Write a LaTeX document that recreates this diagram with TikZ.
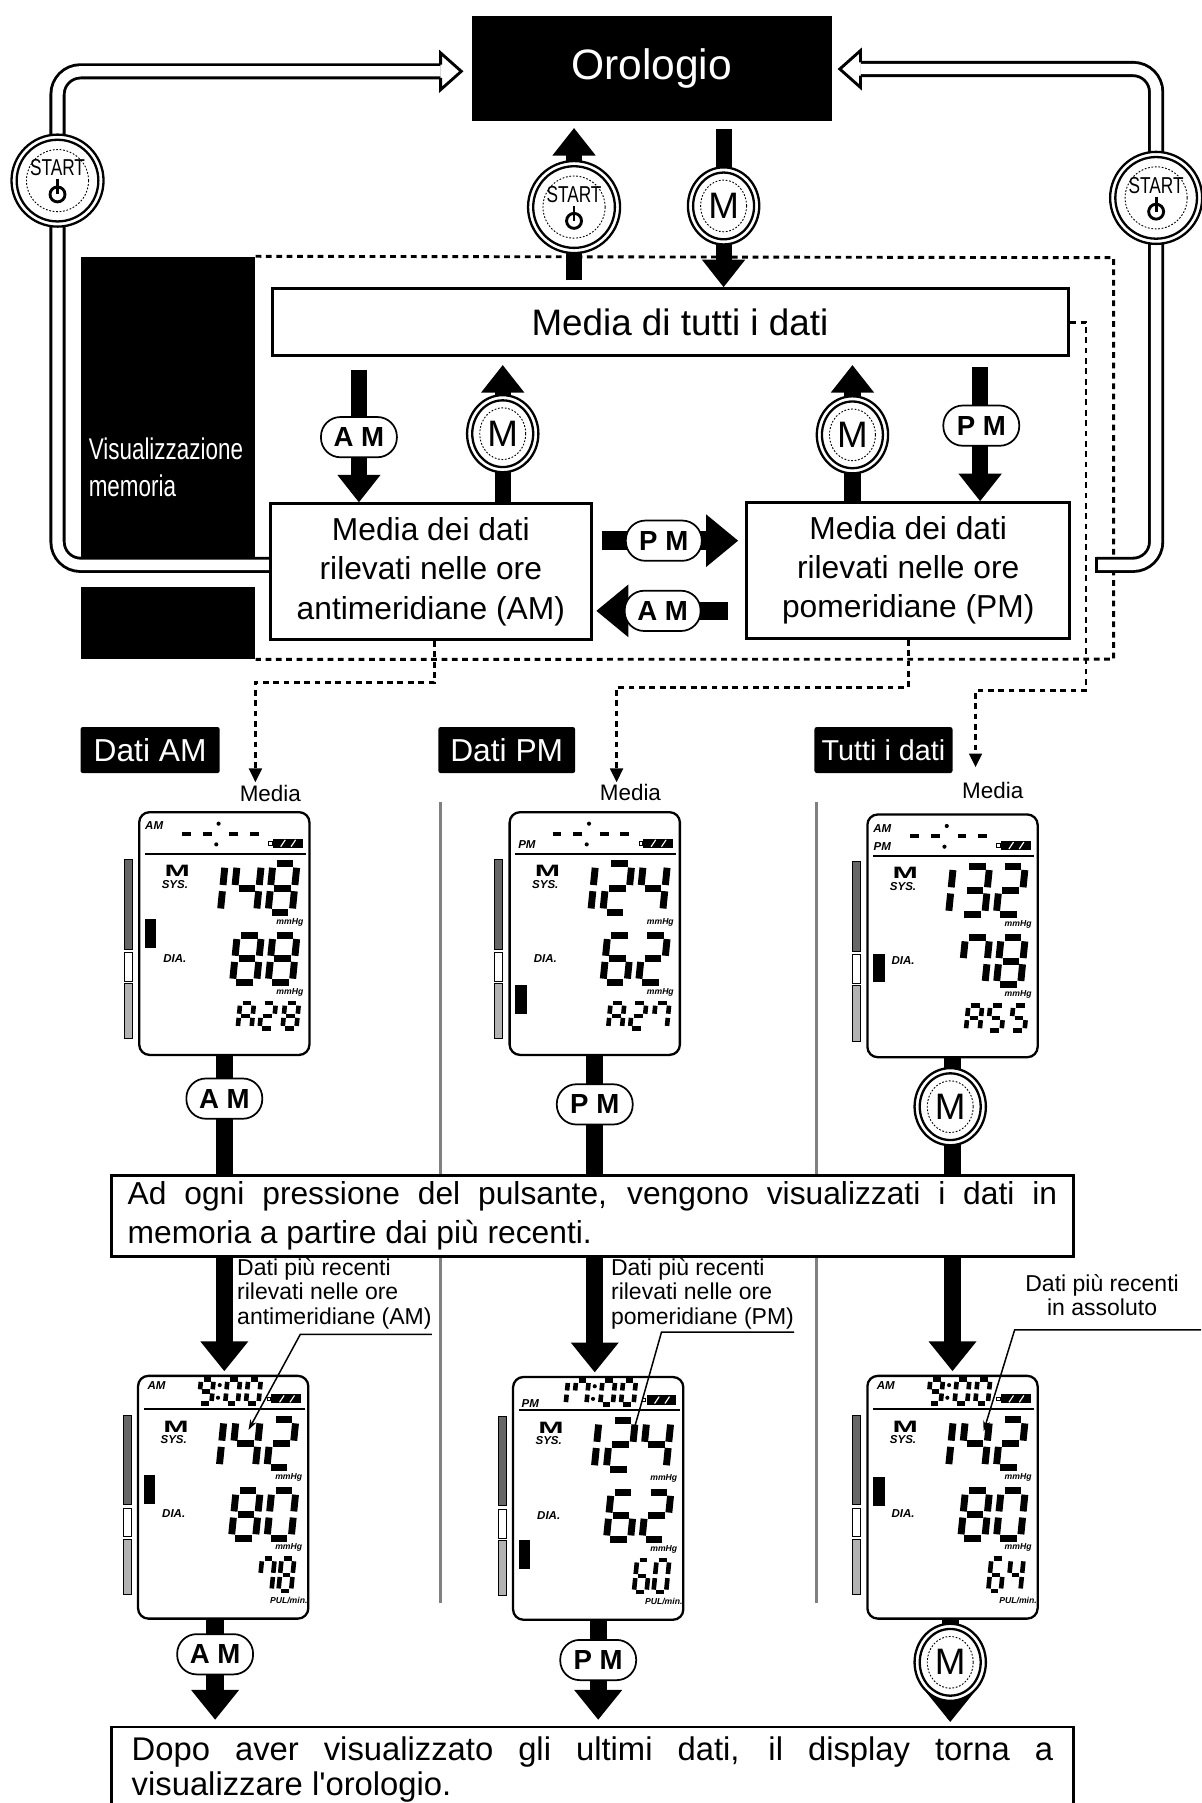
\documentclass[tikz,border=0pt]{standalone}
\usepackage{fontspec}
\setmainfont{Liberation Sans}
\newfontfamily\narrowfont{Liberation Sans}[FakeStretch=0.75]
\usetikzlibrary{arrows.meta,shapes.geometric,calc}
\definecolor{darkbar}{gray}{0.4}
\definecolor{lightbar}{gray}{0.7}
\definecolor{sepgray}{gray}{0.5}
\newcommand{\fsz}[2]{\fontsize{#1}{#2}\selectfont}
\tikzstyle{blackbox}=[fill=black, text=white, inner sep=0pt]
\tikzstyle{textbox}=[draw, line width=2.5pt, fill=white, inner sep=0pt, align=center, font=\fsz{27.6}{34}]
\tikzstyle{bigarrow}=[line width=14pt, -{Triangle[width=36pt,length=24pt]}]
\tikzstyle{colarrow}=[line width=15pt, -{Triangle[width=40pt,length=26pt]}]
\tikzstyle{sidearrow}=[line width=16pt, -{Triangle[width=44pt,length=28pt]}]
\tikzstyle{hollow}=[line width=2.5pt, double=white, double distance=9pt, rounded corners=20pt]
\tikzstyle{dotline}=[line width=2.5pt, dash pattern=on 5pt off 4pt]
\tikzstyle{dotarrow}=[dotline, -{Triangle[width=11pt,length=12pt]}]
\tikzstyle{pill}=[draw, line width=1.5pt, fill=white, rounded corners=17pt, minimum width=66pt, minimum height=35pt, inner sep=0pt, font=\bfseries\fsz{24}{24}]
\tikzstyle{startbtn}=[circle, draw, line width=2pt, fill=white, minimum size=80pt, inner sep=0pt, path picture={
  \draw[line width=2pt] (path picture bounding box.center) circle (35.5pt);
  \draw[line width=0.8pt, dash pattern=on 1.5pt off 1.5pt] (path picture bounding box.center) circle (27pt);
  \node[font=\narrowfont\fsz{20}{20}, inner sep=0pt] at ([yshift=11pt]path picture bounding box.center) {START};
  \draw[line width=2.5pt] ([yshift=-12pt]path picture bounding box.center) circle (6.5pt);
  \draw[line width=2.5pt] ([yshift=1pt]path picture bounding box.center) -- ([yshift=-12pt]path picture bounding box.center);}]
\tikzstyle{mbtn}=[ellipse, draw, line width=2pt, fill=white, minimum width=62pt, minimum height=67pt, inner sep=0pt, font=\fsz{32}{32}, path picture={
  \draw[line width=2pt] (path picture bounding box.center) ellipse (26.5pt and 29pt);
  \draw[line width=0.8pt, dash pattern=on 1.5pt off 1.5pt] (path picture bounding box.center) ellipse (20pt and 22.5pt);}]
\tikzstyle{lcd}=[draw, line width=2pt, rounded corners=9pt, minimum width=148pt, minimum height=211pt, inner sep=0pt]
\tikzstyle{lcdtag}=[font=\bfseries\itshape\fsz{10}{10}, inner sep=0pt]
\tikzstyle{lcdunit}=[font=\bfseries\itshape\fsz{7.5}{7.5}, inner sep=0pt]

\expandafter\def\csname dig0\endcsname{a,b,c,d,e,f}
\expandafter\def\csname dig1\endcsname{b,c}
\expandafter\def\csname dig2\endcsname{a,b,g,e,d}
\expandafter\def\csname dig3\endcsname{a,b,g,c,d}
\expandafter\def\csname dig4\endcsname{f,g,b,c}
\expandafter\def\csname dig5\endcsname{a,f,g,c,d}
\expandafter\def\csname dig6\endcsname{a,f,g,e,c,d}
\expandafter\def\csname dig7\endcsname{a,b,c,f}
\expandafter\def\csname dig8\endcsname{a,b,c,d,e,f,g}
\expandafter\def\csname dig9\endcsname{a,b,c,d,f,g}
\expandafter\def\csname digA\endcsname{a,b,c,e,f,g}
\expandafter\def\csname digx\endcsname{g}

\newcommand{\lcdseg}[1]{%
  \if#1a\draw (\dI,\dT) -- (\dW-\dI,\dT);\fi
  \if#1g\draw (\dI,\dH/2) -- (\dW-\dI,\dH/2);\fi
  \if#1d\draw (\dI,\dH-\dT) -- (\dW-\dI,\dH-\dT);\fi
  \if#1f\draw (\dT,\dI) -- (\dT,\dH/2-\dG);\fi
  \if#1e\draw (\dT,\dH/2+\dG) -- (\dT,\dH-\dI);\fi
  \if#1b\draw (\dW-\dT,\dI) -- (\dW-\dT,\dH/2-\dG);\fi
  \if#1c\draw (\dW-\dT,\dH/2+\dG) -- (\dW-\dT,\dH-\dI);\fi}

\newcommand{\lcdrow}[5]{%
  \foreach \dg/\xx in {#5}{%
    \edef\seglist{\csname dig\dg\endcsname}%
    \begin{scope}[shift={(\xx,#1)}, xslant=0.1, line width=#4pt]
      \def\dW{#2}\def\dH{#3}\def\dT{#4/2}\def\dI{#4*1.05}\def\dG{#4*0.45}%
      \foreach \sgm in \seglist {\lcdseg{\sgm}}
    \end{scope}}}

\newcommand{\lcdpanel}[5]{%
  \node[lcd, anchor=north west] (#1) at #2 {};
  \begin{scope}[shift={(#1.north west)}]
    \draw[line width=1.8pt] (6,30+#3) -- (146,30+#3);
    \fill (117,17+#3) rectangle (143,25+#3);
    \draw[white, line width=1pt] (124,24+#3) -- (128,18+#3) (133,24+#3) -- (137,18+#3);
    \draw[line width=0.8pt] (113.5,19.5+#3) rectangle (116.5,22.5+#3);
    \node[font=\bfseries\fsz{22}{22}, xscale=1.2, yscale=0.65, inner sep=0pt] at (34,45+#3) {M};
    \node[lcdtag] at (32,56.5+#3) {SYS.};
    \node[lcdtag] at (32,121+#3) {DIA.};
    \node[lcdunit] at (132,89.5+#3) {mmHg};
    \node[lcdunit] at (132,150.5+#3) {mmHg};
    \filldraw[fill=darkbar, line width=0.8pt] (-12,35+#3) rectangle (-5,113+#3);
    \draw[line width=0.8pt] (-12,116+#3) rectangle (-5,141+#3);
    \filldraw[fill=lightbar, line width=0.8pt] (-12,143+#3) rectangle (-5,191+#3);
    \fill (6,#4+#3) rectangle (16,#4+25+#3);
    #5
  \end{scope}}

\begin{document}
\begin{tikzpicture}[x=1pt, y=-1pt]
\useasboundingbox (0,0) rectangle (1044,1567.3);

\coordinate (cS) at (499,0);
\coordinate (cM) at (629,0);
\coordinate (cL1) at (312,0);
\coordinate (cL2) at (437,0);
\coordinate (cR1) at (741,0);
\coordinate (cR2) at (852,0);
\coordinate (rP) at (0,470);
\coordinate (rA) at (0,531);
\coordinate (cA) at (187,0);
\coordinate (cB) at (520,0);
\coordinate (cC) at (826,0);

\node[blackbox, minimum width=152pt, minimum height=261pt] (vis) at (146,353.5) {};
\node[blackbox, minimum width=152pt, minimum height=63pt] (visb) at (146,541.5) {};
\node[text=white, anchor=west, align=left, inner sep=0pt, font=\narrowfont\fsz{26}{32}] (vislabel) at (77,406) {Visualizzazione\\memoria};

\node[blackbox, minimum width=313pt, minimum height=91pt, font=\fsz{37}{37}] (orologio) at (566.5,59.5) {Orologio};
\node[textbox, minimum width=692pt, minimum height=58pt, font=\fsz{32}{32}] (tutti) at (583,280) {\hspace*{16pt}Media di tutti i dati};
\node[textbox, minimum width=279pt, minimum height=118pt] (mediaam) at (374.5,497) {Media dei dati\\rilevati nelle ore\\antimeridiane (AM)};
\node[textbox, minimum width=281pt, minimum height=118pt] (mediapm) at (789.5,496) {Media dei dati\\rilevati nelle ore\\pomeridiane (PM)};

\coordinate (dA) at (222,680);
\coordinate (dB) at (536,680);
\coordinate (dC) at (848,667);
\draw[dotline] (vis.north east) -- (968,224) -- (968,573) -- (visb.south east);
\draw[dotarrow] ([xshift=3pt]mediaam.south) -- ++(0,36) -| (dA);
\draw[dotarrow] (mediapm.south) -- ++(0,41) -| (dB);
\draw[dotarrow] (tutti.east) -- (944,280) -- (944,600) -| (dC);

\coordinate (cornL) at (50,62);
\coordinate (headL) at (383,62);
\coordinate (rstart) at ($(mediapm.east)+(22,-5)$);
\coordinate (cornR) at (1005,60);
\coordinate (headR) at (748,60);
\draw[hollow] ([yshift=6pt]mediaam.west) -| (cornL) -- (headL);
\filldraw[line width=2.5pt, fill=white] ([yshift=5.75pt]headL) -- ([yshift=16pt]headL) -- ([xshift=18pt]headL) -- ([yshift=-16pt]headL) -- ([yshift=-5.75pt]headL);
\draw[hollow] (rstart) -| (cornR) -- (headR);
\draw[line width=2.5pt] ([yshift=7pt]rstart) -- ([yshift=-7pt]rstart);
\filldraw[line width=2.5pt, fill=white] ([yshift=5.75pt]headR) -- ([yshift=16pt]headR) -- ([xshift=-18pt]headR) -- ([yshift=-16pt]headR) -- ([yshift=-5.75pt]headR);

\draw[bigarrow] ($(tutti.north -| cS)+(0,-6)$) -- ($(orologio.south -| cS)+(0,6)$);
\draw[bigarrow] ($(orologio.south -| cM)+(0,7)$) -- (tutti.north -| cM);
\draw[bigarrow] ($(tutti.south -| cL1)+(0,11)$) -- (mediaam.north -| cL1);
\draw[bigarrow] (mediaam.north -| cL2) -- ($(tutti.south -| cL2)+(0,7)$);
\draw[bigarrow] (mediapm.north -| cR1) -- ($(tutti.south -| cR1)+(0,7)$);
\draw[bigarrow] ($(tutti.south -| cR2)+(0,9)$) -- (mediapm.north -| cR2);
\draw[sidearrow] ($(mediaam.east |- rP)+(8,0)$) -- ($(mediapm.west |- rP)+(-6,0)$);
\draw[sidearrow] ($(mediapm.west |- rA)+(-15,0)$) -- ($(mediaam.east |- rA)+(3,0)$);

\node[startbtn] (startL) at (50,157) {};
\node[startbtn] (startM) at (499,180) {};
\node[startbtn] (startR) at (1005,172) {};
\node[mbtn] (mTop) at (629,179) {M};
\node[mbtn] (mAM) at (437,377) {M};
\node[mbtn] (mPM) at (741,378) {M};
\node[pill] (pAM) at (312,380) {A M};
\node[pill] (pPM) at (853,370) {P M};
\node[pill] (pPMh) at (577,470) {P M};
\node[pill] (pAMh) at (576,531) {A M};

\node[blackbox, minimum width=121pt, minimum height=40pt, rounded corners=2pt, font=\fsz{27.6}{27.6}] (tagAM) at (130.5,652) {Dati AM};
\node[blackbox, minimum width=119pt, minimum height=40pt, rounded corners=2pt, font=\fsz{27.6}{27.6}] (tagPM) at (440.5,652) {Dati PM};
\node[blackbox, minimum width=120pt, minimum height=40pt, rounded corners=2pt, font=\fsz{25}{25}] (tagAll) at (768,652) {Tutti i dati};
\node[font=\fsz{19.5}{19.5}, inner sep=0pt] (avgAM) at (235,690) {Media};
\node[font=\fsz{19.5}{19.5}, inner sep=0pt] (avgPM) at (548,689) {Media};
\node[font=\fsz{19.5}{19.5}, inner sep=0pt] (avgAll) at (863,687) {Media};

\draw[sepgray, line width=2.5pt] (383,697) -- (383,1393);
\draw[sepgray, line width=2.5pt] (710,697) -- (710,1393);

\lcdpanel{lcd1}{(120,705)}{7}{87}{
  \node[lcdtag] at (14,13) {AM};
  \lcdrow{7}{15}{26}{3.5}{x/36,x/54,x/77,x/95}
  \fill (70,11) circle (1.8pt) (68,29) circle (1.8pt);
  \lcdrow{43}{27}{48}{6}{1/52,4/83.5,8/114.5}
  \lcdrow{105}{27}{47}{6}{8/83.5,8/114.5}
  \lcdrow{165}{16}{26}{4}{A/87,2/106,8/126}}
\lcdpanel{lcd2}{(442,705)}{7}{144}{
  \node[lcdtag] at (16,29) {PM};
  \lcdrow{7}{15}{26}{3.5}{x/36,x/54,x/77,x/95}
  \fill (70,11) circle (1.8pt) (68,29) circle (1.8pt);
  \lcdrow{43}{27}{48}{6}{1/52,2/83.5,4/114.5}
  \lcdrow{105}{27}{47}{6}{6/83.5,2/114.5}
  \lcdrow{165}{16}{26}{4}{A/87,2/106,7/126}}
\lcdpanel{lcd3}{(753,707)}{7}{115}{
  \node[lcdtag] at (14,13) {AM};
  \node[lcdtag] at (14,29) {PM};
  \lcdrow{7}{15}{26}{3.5}{x/36,x/54,x/77,x/95}
  \fill (70,11) circle (1.8pt) (68,29) circle (1.8pt);
  \lcdrow{43}{27}{48}{6}{1/52,3/83.5,2/114.5}
  \lcdrow{105}{27}{47}{6}{7/83.5,8/114.5}
  \lcdrow{165}{16}{26}{4}{A/87,5/106,5/126}}
\lcdpanel{lcd4}{(119,1195)}{0}{87}{
  \node[lcdtag] at (17,9) {AM};
  \lcdrow{2}{15}{25}{4}{9/54,0/77,0/95}
  \fill (72,9) circle (1.8pt) (70.5,20) circle (1.8pt);
  \lcdrow{36}{27}{48}{6}{1/52,4/83.5,2/114.5}
  \lcdrow{98}{27}{47}{6}{8/83.5,0/114.5}
  \lcdrow{158}{15}{32}{4}{7/107,8/124}
  \node[lcdunit] at (132,196) {PUL/min.};}
\lcdpanel{lcd5}{(445,1196)}{0}{143}{
  \node[lcdtag] at (16,24) {PM};
  \lcdrow{2}{15}{25}{4}{1/36,7/54,0/77,0/95}
  \fill (72,9) circle (1.8pt) (70.5,20) circle (1.8pt);
  \lcdrow{36}{27}{48}{6}{1/52,2/83.5,4/114.5}
  \lcdrow{98}{27}{47}{6}{6/83.5,2/114.5}
  \lcdrow{158}{15}{32}{4}{6/107,0/124}
  \node[lcdunit] at (132,196) {PUL/min.};}
\lcdpanel{lcd6}{(753,1195)}{0}{89}{
  \node[lcdtag] at (17,9) {AM};
  \lcdrow{2}{15}{25}{4}{9/54,0/77,0/95}
  \fill (72,9) circle (1.8pt) (70.5,20) circle (1.8pt);
  \lcdrow{36}{27}{48}{6}{1/52,4/83.5,2/114.5}
  \lcdrow{98}{27}{47}{6}{8/83.5,0/114.5}
  \lcdrow{158}{15}{32}{4}{6/107,4/124}
  \node[lcdunit] at (132,196) {PUL/min.};}

\draw[colarrow] (lcd1.south) -- ($(lcd1.south |- lcd4.north)+(0,-3)$);
\draw[colarrow] (lcd2.south) -- ($(lcd2.south |- lcd5.north)+(0,-3)$);
\draw[colarrow] (lcd3.south) -- ($(lcd3.south |- lcd6.north)+(0,-3)$);
\node[pill] (pAM1) at (195,955) {A M};
\node[pill] (pPM1) at (517,960) {P M};
\node[mbtn] (mAll) at (826,962) {M};

\node[textbox, text width=808pt, align=justify, inner xsep=14pt, minimum height=70pt, font={\fsz{27.6}{34}\hyphenpenalty=10000\relax}] (note1) at (515,1057) {Ad ogni pressione del pulsante, vengono visualizzati i dati in memoria a partire dai più recenti.};

\node[textbox, anchor=north, text width=801pt, align=justify, inner xsep=17.5pt, minimum height=74pt, font={\fsz{28.5}{30}\hyphenpenalty=10000\relax}] (note2) at (515,1500) {Dopo aver visualizzato gli ultimi dati, il display torna a\linebreak visualizzare l\textquotesingle orologio.};

\draw[colarrow] (lcd4.south -| cA) -- ($(note2.north -| cA)+(0,-5)$);
\draw[colarrow] (lcd5.south -| cB) -- ($(note2.north -| cB)+(0,-5)$);
\draw[colarrow] (lcd6.south -| cC) -- ($(note2.north -| cC)+(0,-3)$);
\node[pill] (pAM2) at (187,1438) {A M};
\node[pill] (pPM2) at (520,1443) {P M};
\node[mbtn] (mAll2) at (826,1445) {M};

\node[anchor=north west, align=left, inner sep=0pt, font=\fsz{20}{21}] (annAM) at (206,1094) {Dati più recenti\\rilevati nelle ore\\antimeridiane (AM)};
\node[anchor=north west, align=left, inner sep=0pt, font=\fsz{20}{21}] (annPM) at (531,1094) {Dati più recenti\\rilevati nelle ore\\pomeridiane (PM)};
\node[anchor=north, align=center, inner sep=0pt, font=\fsz{20}{21}] (annAll) at (958,1108) {Dati più recenti\\in assoluto};

\coordinate (ulAM) at (261,1160);
\coordinate (tipAM) at (216,1243);
\coordinate (ulPM) at (575,1158);
\coordinate (tipPM) at (549,1250);
\coordinate (ulAll) at (882,1156);
\coordinate (tipAll) at (855,1244);
\draw[line width=1.3pt, -{Stealth[length=9pt,width=6pt]}] (annAM.south east |- ulAM) -- (ulAM) -- (tipAM);
\draw[line width=1.3pt, -{Stealth[length=9pt,width=6pt]}] (annPM.south east |- ulPM) -- (ulPM) -- (tipPM);
\draw[line width=1.3pt, -{Stealth[length=9pt,width=6pt]}] (1044,1156) -- (ulAll) -- (tipAll);
\end{tikzpicture}
\end{document}
